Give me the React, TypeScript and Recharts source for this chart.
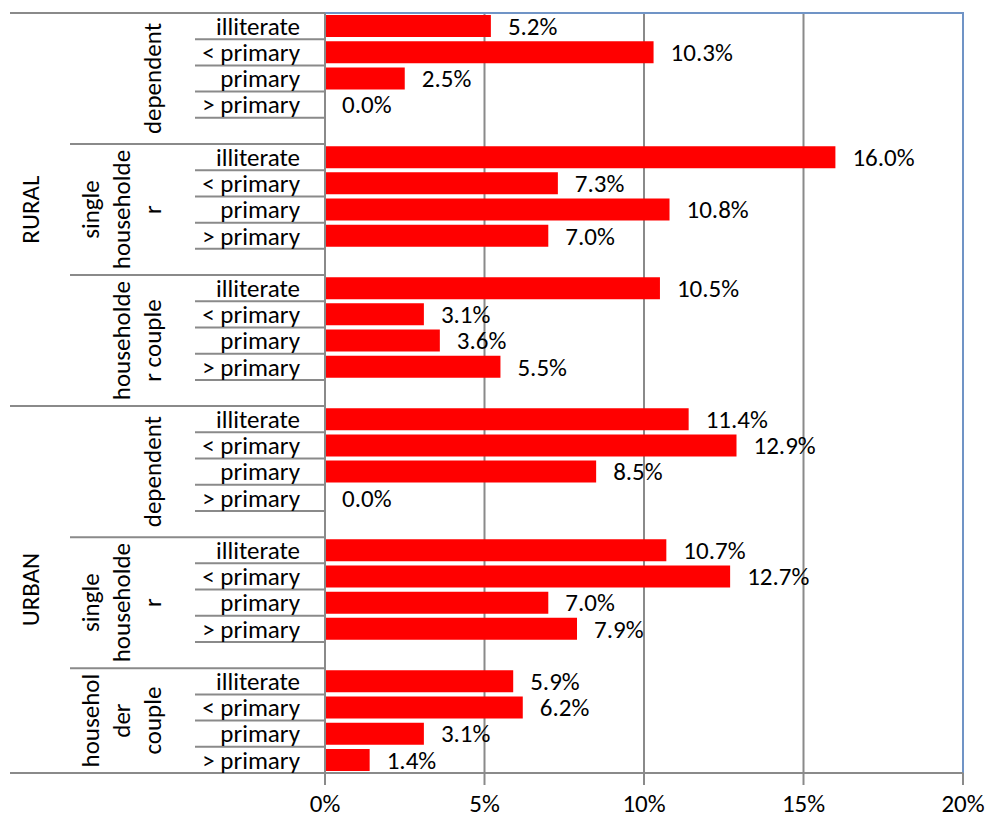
import {
  BarChart,
  Bar,
  XAxis,
  YAxis,
  CartesianGrid,
  LabelList,
  ReferenceArea,
} from "recharts";

const FONT = "Carlito, Lato, sans-serif";
const GRAY = "#8a8a8a";

const areas = ["RURAL", "URBAN"];
const eduLevels = ["illiterate", "< primary", "primary", "> primary"];

// group labels as they wrap in the original (one array per line)
const ruralGroups = [["dependent"], ["single", "householde", "r"], ["householde", "r couple"]];
const urbanGroups = [["dependent"], ["single", "householde", "r"], ["househol", "der", "couple"]];

const ruralDependent = [5.2, 10.3, 2.5, 0.0];
const ruralSingle = [16.0, 7.3, 10.8, 7.0];
const ruralCouple = [10.5, 3.1, 3.6, 5.5];
const urbanDependent = [11.4, 12.9, 8.5, 0.0];
const urbanSingle = [10.7, 12.7, 7.0, 7.9];
const urbanCouple = [5.9, 6.2, 3.1, 1.4];

const xTicks = [0, 5, 10, 15, 20];

const groupsByArea = [ruralGroups, urbanGroups];
const valuesByArea = [
  [ruralDependent, ruralSingle, ruralCouple],
  [urbanDependent, urbanSingle, urbanCouple],
];

type Row = {
  key: string;
  edu: string;
  value: number | null;
  groupLines: string[] | null;
  groupSlots: number;
  area: string | null;
  areaSlots: number;
  groupEnd: boolean;
  areaEnd: boolean;
};

const rows: Row[] = [];
areas.forEach((area, ai) => {
  const areaStart = rows.length;
  groupsByArea[ai].forEach((lines, gi) => {
    const lastOfAll = ai === areas.length - 1 && gi === groupsByArea[ai].length - 1;
    const lastOfArea = gi === groupsByArea[ai].length - 1;
    const slots = lastOfAll ? eduLevels.length : eduLevels.length + 1;
    eduLevels.forEach((edu, ei) => {
      rows.push({
        key: `${ai}-${gi}-${ei}`,
        edu,
        value: valuesByArea[ai][gi][ei],
        groupLines: ei === 0 ? lines : null,
        groupSlots: slots,
        area: null,
        areaSlots: 0,
        groupEnd: lastOfAll && ei === eduLevels.length - 1,
        areaEnd: lastOfAll && ei === eduLevels.length - 1,
      });
    });
    if (!lastOfAll) {
      rows.push({
        key: `${ai}-${gi}-gap`,
        edu: "",
        value: null,
        groupLines: null,
        groupSlots: 0,
        area: null,
        areaSlots: 0,
        groupEnd: true,
        areaEnd: lastOfArea,
      });
    }
  });
  rows[areaStart].area = area;
  rows[areaStart].areaSlots = rows.length - areaStart;
});

const rowByKey: Record<string, Row> = {};
rows.forEach((r) => (rowByKey[r.key] = r));

const W = 987;
const H = 818;
const M_TOP = 13;
const M_RIGHT = 24;
const X_AXIS_H = 45;
const Y_AXIS_W = 325;
const PLOT_H = H - M_TOP - X_AXIS_H;
const BAND = PLOT_H / rows.length;

const textStyle = { fontFamily: FONT, fontSize: 25, fill: "#000" };

function CategoryTick(props: any) {
  const { y, payload, index } = props;
  const row = rowByKey[payload.value];
  if (!row) return null;
  const bottom = y + BAND / 2;
  const lineStart = row.areaEnd ? 10 : row.groupEnd ? 70 : 195;
  return (
    <g>
      {index === 0 && (
        <line x1={10} x2={Y_AXIS_W} y1={y - BAND / 2} y2={y - BAND / 2} stroke={GRAY} strokeWidth={2} />
      )}
      <line x1={lineStart} x2={Y_AXIS_W} y1={bottom} y2={bottom} stroke={GRAY} strokeWidth={2} />
      {row.edu && (
        <text x={300} y={y} dy="0.35em" textAnchor="end" {...textStyle}>
          {row.edu}
        </text>
      )}
      {row.groupLines &&
        row.groupLines.map((ln, i) => {
          const cy = y + ((row.groupSlots - 1) / 2) * BAND;
          const cx = 152 - (row.groupLines!.length - 1 - i) * 31;
          return (
            <text
              key={i}
              x={cx}
              y={cy}
              dy="0.35em"
              textAnchor="middle"
              transform={`rotate(-90 ${cx} ${cy})`}
              {...textStyle}
            >
              {ln}
            </text>
          );
        })}
      {row.area && (
        <text
          x={30}
          y={y + ((row.areaSlots - 1) / 2) * BAND}
          dy="0.35em"
          textAnchor="middle"
          transform={`rotate(-90 30 ${y + ((row.areaSlots - 1) / 2) * BAND})`}
          {...textStyle}
        >
          {row.area}
        </text>
      )}
    </g>
  );
}

function ValueLabel(props: any) {
  const { x, y, width, height, value } = props;
  if (value == null) return null;
  return (
    <text x={x + (width || 0) + 17} y={y + height / 2} dy="0.35em" textAnchor="start" {...textStyle}>
      {`${Number(value).toFixed(1)}%`}
    </text>
  );
}

export default function App() {
  return (
    <div style={{ position: "absolute", left: 0, top: 0, width: W, height: H, background: "#fff" }}>
      <BarChart
        width={W}
        height={H}
        data={rows}
        layout="vertical"
        margin={{ top: M_TOP, right: M_RIGHT, left: 0, bottom: 0 }}
        barCategoryGap="8%"
      >
        <CartesianGrid vertical horizontal={false} stroke={GRAY} strokeWidth={2} />
        <ReferenceArea x1={0} x2={20} fill="none" stroke="#7094c6" strokeWidth={2} />
        <XAxis
          type="number"
          domain={[0, 20]}
          ticks={xTicks}
          tickFormatter={(v) => `${v}%`}
          height={X_AXIS_H}
          tickSize={12}
          tickMargin={9}
          stroke={GRAY}
          strokeWidth={2}
          tick={{ ...textStyle }}
        />
        <YAxis
          type="category"
          dataKey="key"
          width={Y_AXIS_W}
          interval={0}
          tickLine={false}
          stroke={GRAY}
          strokeWidth={2}
          tick={<CategoryTick />}
        />
        <Bar
          dataKey="value"
          fill="#ff0000"
          isAnimationActive={false}
          minPointSize={(v: any) => (v === 0 ? 0.01 : 0)}
        >
          <LabelList dataKey="value" content={<ValueLabel />} />
        </Bar>
      </BarChart>
    </div>
  );
}
